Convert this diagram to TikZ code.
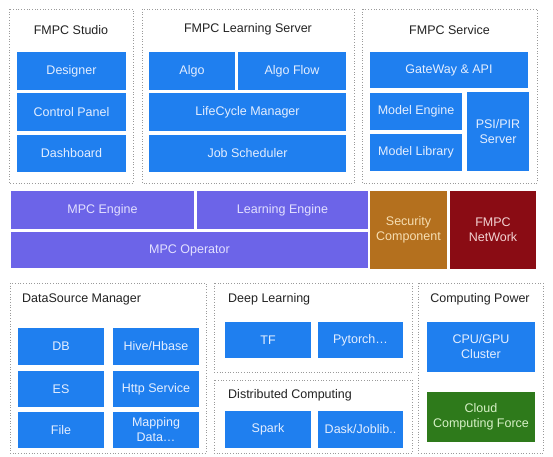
\documentclass[tikz,border=0pt]{standalone}
\usepackage{fontspec}
\setmainfont{Liberation Sans}
\usepackage{xcolor}
\definecolor{Ink}{HTML}{222222}
\definecolor{Frame}{HTML}{9A9A9A}
\definecolor{Block}{HTML}{1F7FEF}
\definecolor{BlockText}{HTML}{E4EEFF}
\definecolor{Core}{HTML}{6C64E8}
\definecolor{CoreText}{HTML}{E2E0FF}
\definecolor{Secure}{HTML}{B4701E}
\definecolor{SecureText}{HTML}{F6DEB2}
\definecolor{Net}{HTML}{8A0C14}
\definecolor{NetText}{HTML}{F2D2D2}
\definecolor{Cloud}{HTML}{2E7A1B}
\definecolor{CloudText}{HTML}{D6F0C6}
\begin{document}
\begin{tikzpicture}[x=1pt,y=-1pt,
  font=\fontsize{12.5}{15}\selectfont,
  frame/.style={draw=Frame,dotted,line width=0.7pt},
  title/.style={text=Ink,inner sep=0pt},
  box/.style={fill=#1,inner sep=0pt,align=center,outer sep=0pt},
  blk/.style={box=Block,text=BlockText}]
\useasboundingbox (0,0) rectangle (553,456);
% top row: studio, learning server, service
\draw[frame] (9,9) rectangle (133,183);
\node[title] (studio) at (71,30) {FMPC Studio};
\node[blk,minimum width=109,minimum height=38] (designer) at (71.5,71) {Designer};
\node[blk,minimum width=109,minimum height=38] (panel) at (71.5,112) {Control Panel};
\node[blk,minimum width=109,minimum height=37] (dash) at (71.5,153.5) {Dashboard};
\draw[frame] (142,9) rectangle (354,183);
\node[title] (lserver) at (248,29) {FMPC Learning Server};
\node[blk,minimum width=86,minimum height=38] (algo) at (192,71) {Algo};
\node[blk,minimum width=108,minimum height=38] (algoflow) at (292,71) {Algo Flow};
\node[blk,minimum width=197,minimum height=38] (lifecycle) at (247.5,112) {LifeCycle Manager};
\node[blk,minimum width=197,minimum height=37] (jobs) at (247.5,153.5) {Job Scheduler};
\draw[frame] (362,9) rectangle (537,183);
\node[title] (service) at (449.5,30) {FMPC Service};
\node[blk,minimum width=158,minimum height=36] (gateway) at (449,70) {GateWay \& API};
\node[blk,minimum width=92,minimum height=37] (mengine) at (416,111.5) {Model Engine};
\node[blk,minimum width=92,minimum height=37] (mlib) at (416,152.5) {Model Library};
\node[blk,minimum width=62,minimum height=79] (psi) at (498,131.5) {PSI/PIR\\Server};
% middle row
\node[box=Core,text=CoreText,minimum width=183,minimum height=38] (mpceng) at (102.5,210) {MPC Engine};
\node[box=Core,text=CoreText,minimum width=171,minimum height=38] (learneng) at (282.5,210) {Learning Engine};
\node[box=Core,text=CoreText,minimum width=357,minimum height=36] (mpcop) at (189.5,250) {MPC Operator};
\node[box=Secure,text=SecureText,minimum width=77,minimum height=78] (secure) at (408.5,230) {Security\\Component};
\node[box=Net,text=NetText,minimum width=86,minimum height=78] (network) at (493,230) {FMPC\\NetWork};
% bottom row: data sources, learning libs, computing power
\draw[frame] (10,283) rectangle (206,453);
\node[title,anchor=west] (dsm) at (22,299) {DataSource Manager};
\node[blk,minimum width=86,minimum height=37] (db) at (61,346.5) {DB};
\node[blk,minimum width=86,minimum height=37] (hive) at (156,346.5) {Hive/Hbase};
\node[blk,minimum width=86,minimum height=36] (es) at (61,389) {ES};
\node[blk,minimum width=86,minimum height=36] (http) at (156,389) {Http Service};
\node[blk,minimum width=86,minimum height=36] (file) at (61,430) {File};
\node[blk,minimum width=86,minimum height=36] (mapping) at (156,430) {Mapping\\Data\dots};
\draw[frame] (214,283) rectangle (412,372);
\node[title,anchor=west] (deep) at (228,299) {Deep Learning};
\node[blk,minimum width=86,minimum height=36] (tf) at (268,340) {TF};
\node[blk,minimum width=85,minimum height=36] (pytorch) at (360.5,340) {Pytorch\dots};
\draw[frame] (214,380) rectangle (412,453);
\node[title,anchor=west] (distrib) at (228,395) {Distributed Computing};
\node[blk,minimum width=86,minimum height=37] (spark) at (268,429.5) {Spark};
\node[blk,minimum width=85,minimum height=37] (dask) at (360.5,429.5) {Dask/Joblib..};
\draw[frame] (418,283) rectangle (543,453);
\node[title] (power) at (480,299) {Computing Power};
\node[blk,minimum width=108,minimum height=50] (cluster) at (481,347) {CPU/GPU\\Cluster};
\node[box=Cloud,text=CloudText,minimum width=108,minimum height=50] (cloud) at (481,417) {Cloud\\Computing Force};
\end{tikzpicture}
\end{document}
